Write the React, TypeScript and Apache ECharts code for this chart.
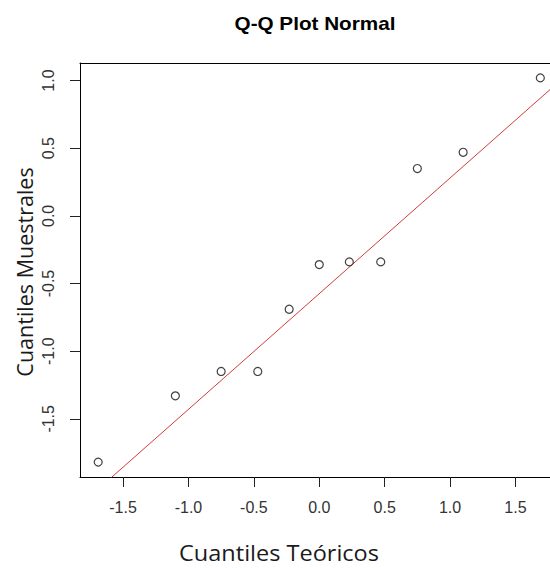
import React, { useEffect, useRef } from "react";
import * as echarts from "echarts";

const chartTitle = "Q-Q Plot Normal";
const xTitle = "Cuantiles Teóricos";
const yTitle = "Cuantiles Muestrales";
const theoretical = [-1.69, -1.1, -0.75, -0.47, -0.23, 0, 0.23, 0.47, 0.75, 1.1, 1.69];
const sample = [-1.82, -1.33, -1.15, -1.15, -0.69, -0.36, -0.34, -0.34, 0.35, 0.47, 1.02];
const xTicks = [-1.5, -1.0, -0.5, 0.0, 0.5, 1.0, 1.5];
const yTicks = [-1.5, -1.0, -0.5, 0.0, 0.5, 1.0];
const lineIntercept = -0.575;
const lineSlope = 0.855;
const lineXs = [-2.2, 2.2];

export default function App() {
  const ref = useRef<HTMLDivElement>(null);
  useEffect(() => {
    if (!ref.current) return;
    const chart = echarts.init(ref.current, null, { renderer: "svg" });
    const tickFont = { fontFamily: "Liberation Sans, Arial, sans-serif", fontSize: 16, color: "#333" };
    chart.setOption({
      animation: false,
      backgroundColor: "#fff",
      grid: { left: 80, top: 63, right: 0, bottom: 91, containLabel: false },
      xAxis: [
        {
          type: "value",
          min: -1.829,
          max: 1.764,
          splitLine: { show: false },
          axisLine: { show: true, onZero: false, lineStyle: { color: "#000", width: 1 } },
          axisTick: { show: true, inside: false, length: 10, customValues: xTicks, lineStyle: { color: "#222" } },
          axisLabel: {
            ...tickFont,
            margin: 22,
            customValues: xTicks,
            formatter: (v: number) => v.toFixed(1),
          },
        },
        {
          type: "value",
          position: "top",
          min: -1.829,
          max: 1.764,
          splitLine: { show: false },
          axisLine: { show: true, onZero: false, lineStyle: { color: "#000", width: 1 } },
          axisTick: { show: false },
          axisLabel: { show: false },
        },
      ],
      yAxis: {
        type: "value",
        min: -1.93,
        max: 1.13,
        splitLine: { show: false },
        axisLine: { show: true, onZero: false, lineStyle: { color: "#000", width: 1 } },
        axisTick: { show: true, inside: false, length: 10, customValues: yTicks, lineStyle: { color: "#222" } },
        axisLabel: {
          ...tickFont,
          rotate: 90,
          margin: 24,
          customValues: yTicks,
          formatter: (v: number) => v.toFixed(1),
        },
      },
      graphic: [
        {
          type: "text",
          x: 315,
          y: 24,
          scaleX: 1.15,
          style: {
            text: chartTitle,
            fontFamily: "Liberation Sans, Arial, sans-serif",
            fontWeight: "bold",
            fontSize: 18,
            fill: "#000",
            align: "center",
            verticalAlign: "middle",
          },
        },
        {
          type: "text",
          x: 279,
          y: 553,
          scaleX: 1.12,
          style: {
            text: xTitle,
            fontFamily: "Open Sans, sans-serif",
            fontSize: 21,
            fill: "#1a1a1a",
            align: "center",
            verticalAlign: "middle",
          },
        },
        {
          type: "text",
          x: 24,
          y: 272,
          rotation: Math.PI / 2,
          style: {
            text: yTitle,
            fontFamily: "Open Sans, sans-serif",
            fontSize: 21.5,
            fill: "#1a1a1a",
            align: "center",
            verticalAlign: "middle",
          },
        },
      ],
      series: [
        {
          type: "line",
          data: lineXs.map((x) => [x, lineIntercept + lineSlope * x]),
          symbol: "none",
          clip: true,
          lineStyle: { color: "#d23c3c", width: 1 },
          silent: true,
          z: 1,
        },
        {
          type: "scatter",
          data: theoretical.map((x, i) => [x, sample[i]]),
          symbol: "circle",
          symbolSize: 8,
          itemStyle: { color: "#fff", borderColor: "#111", borderWidth: 1.2 },
          z: 2,
        },
      ],
    });
    return () => chart.dispose();
  }, []);
  return (
    <div
      ref={ref}
      style={{ position: "fixed", left: 0, top: 0, width: 550, height: 568, background: "#fff" }}
    />
  );
}
